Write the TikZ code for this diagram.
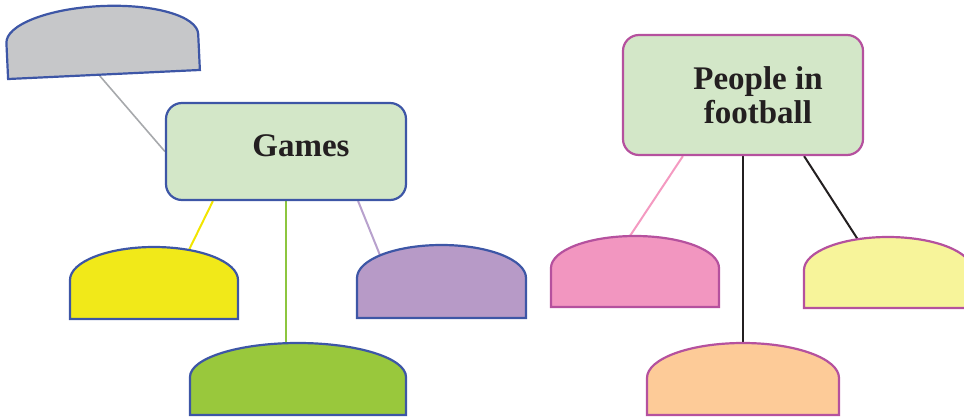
\documentclass[tikz,border=0pt]{standalone}
\usepackage{fontspec}
\setmainfont{Liberation Serif}
\usetikzlibrary{calc,backgrounds}

\definecolor{boxgreen}{HTML}{D3E7C8}
\definecolor{lineblue}{HTML}{3D56A6}
\definecolor{linemag}{HTML}{B5519E}
\definecolor{domegray}{HTML}{C6C7C9}
\definecolor{domeyellow}{HTML}{F1E919}
\definecolor{domelilac}{HTML}{B79AC7}
\definecolor{domegreen}{HTML}{99C83C}
\definecolor{domepink}{HTML}{F296C0}
\definecolor{domelemon}{HTML}{F7F49A}
\definecolor{domepeach}{HTML}{FDCB98}
\definecolor{inkblack}{HTML}{231F20}
\definecolor{linkgray}{HTML}{A7A9AC}
\definecolor{linkyellow}{HTML}{F2E500}
\definecolor{linkgreen}{HTML}{8DC63F}
\definecolor{linklilac}{HTML}{B8A1CD}
\definecolor{linkpink}{HTML}{F49AC1}

\tikzset{
  topic/.style={draw, fill=boxgreen, rounded corners=16pt, line width=2.2pt, minimum width=240pt},
  topictext/.style={font=\fontsize{33}{34}\selectfont\bfseries, text=inkblack, align=center},
  pics/dome/.style n args={3}{code={
    \path[pic actions] (-#1,0) -- (-#1,#2) arc[start angle=180, end angle=0, x radius=#1pt, y radius=#3pt] -- (#1,0) -- cycle;
  }},
  bluedome/.style={draw=lineblue, line width=2.2pt},
  magdome/.style={draw=linemag, line width=2.2pt},
  link/.style={line width=2pt},
}

\begin{document}
\begin{tikzpicture}[x=1pt,y=1pt]
    \clip (0,0) rectangle (964,416);

    % the two topics
    \node[topic, draw=lineblue, minimum height=97pt,
      label={[topictext, xshift=15pt, yshift=6pt]center:Games}] (games) at (286,264.5) {};
    \node[topic, draw=linemag, minimum height=120pt,
      label={[topictext, xshift=15pt]center:People in\\football}] (people) at (743,321) {};

    % empty domes, placed by the middle of their base
    \coordinate (gray) at (104,341.5);
    \coordinate (yel) at (154,97);
    \coordinate (lilac) at (441.5,98);
    \coordinate (grn) at (298,1);
    \coordinate (pink) at (635,109);
    \coordinate (lemon) at (888,108);
    \coordinate (peach) at (743,1);

    \pic[fill=domegray, bluedome, rotate=2.7] at (gray) {dome={96}{36}{32.5}};
    \pic[fill=domeyellow, bluedome] at (yel) {dome={84}{39}{33}};
    \pic[fill=domelilac, bluedome] at (lilac) {dome={84.5}{40}{33}};
    \pic[fill=domegreen, bluedome] at (grn) {dome={108}{38}{34}};

    \pic[fill=domepink, magdome] at (pink) {dome={84}{39}{32}};
    \pic[fill=domelemon, magdome] at (lemon) {dome={84}{38}{33}};
    \pic[fill=domepeach, magdome] at (peach) {dome={96}{37}{35}};

    % links, behind the shapes
    \begin{scope}[on background layer={link}]
        \draw[linkgray, line width=1.6pt] (games.west) -- ($(gray)+(-14,10)$);
        \draw[linkyellow] ($(games.south west)+(48,0)$) -- ($(yel)+(30,59)$);
        \draw[linkgreen] (games.south) -- ($(grn)+(-12,20)$);
        \draw[linklilac] ($(games.south east)+(-49,0)$) -- ($(lilac)+(-55.5,48)$);

        \draw[linkpink] ($(people.south west)+(61,0)$) -- ($(pink)+(-15,56)$);
        \draw[inkblack] (people.south) -- ($(peach)+(0,40)$);
        \draw[inkblack] ($(people.south east)+(-60,0)$) -- ($(lemon)+(-24,59)$);
    \end{scope}
\end{tikzpicture}
\end{document}
